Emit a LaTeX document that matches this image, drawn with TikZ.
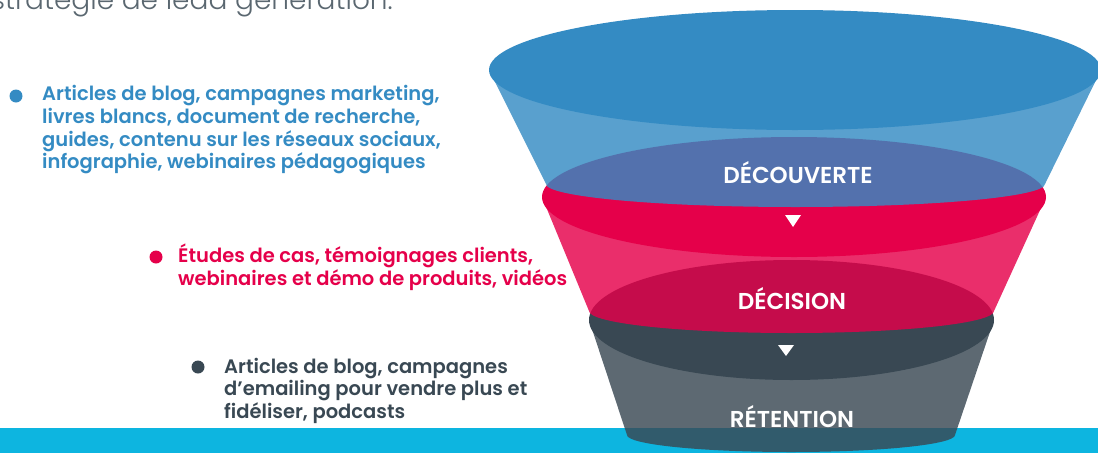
\documentclass[tikz,border=0pt]{standalone}
\usepackage{fontspec}
\IfFontExistsTF{Poppins SemiBold}
  {\newfontfamily\lblfont{Poppins SemiBold}}
  {\newfontfamily\lblfontbase{Poppins}\newcommand\lblfont{\lblfontbase\bfseries}}
\IfFontExistsTF{Poppins Light}
  {\newfontfamily\ttlfont{Poppins Light}}
  {\newfontfamily\ttlfont{Poppins}}
\definecolor{fblue}{HTML}{348BC3}
\definecolor{fred}{HTML}{E5004A}
\definecolor{fgrey}{HTML}{394853}
\definecolor{fcyan}{HTML}{0DB5E0}
\definecolor{ftitle}{HTML}{5A6770}

\begin{document}
\begin{tikzpicture}[x=1pt, y=-1pt]
  \tikzset{
    bodyfill/.style={fill opacity=0.82},
    stagetxt/.style={text=white, inner sep=0pt, font=\lblfont\fontsize{23}{23}\selectfont},
    itemtxt/.style={align=left, anchor=base west, inner sep=0pt, font=\lblfont\fontsize{19.5}{22.7}\selectfont},
    bulletdot/.style={circle, inner sep=0pt, minimum size=13pt},
    flowtri/.style={fill=white},
    ttl/.style={text=ftitle, anchor=base east, inner sep=0pt, font=\ttlfont\fontsize{28}{28}\selectfont},
  }
  \clip (0,0) rectangle (1098,453);

  % Band at the bottom
  \fill[fcyan] (0,428) rectangle (1098,453);

  % Retention stage
  \fill[fgrey] (791.5,320) ellipse [x radius=202.5pt, y radius=60pt];
  \fill[fgrey, bodyfill] (589,320) -- (627,435)
    arc[start angle=180, end angle=360, x radius=164pt, y radius=17pt] -- (994,320) -- cycle;

  % Decision stage
  \fill[fred] (794,197) ellipse [x radius=252pt, y radius=60pt];
  \fill[fred, bodyfill] (542,197) -- (589,311)
    arc[start angle=180, end angle=360, x radius=202.5pt, y radius=22pt] -- (1046,197) -- cycle;

  % Discovery stage
  \fill[fblue, bodyfill] (489,70) -- (546,184)
    arc[start angle=180, end angle=360, x radius=249.5pt, y radius=23pt] -- (1101,70) -- cycle;
  \fill[fblue] (795,70) ellipse [x radius=306pt, y radius=60pt];

  % Stage names
  \node[stagetxt] (disc) at (798,173) {DÉCOUVERTE};
  \node[stagetxt] (deci) at (792,299) {DÉCISION};
  \node[stagetxt] (rete) at (792,417) {RÉTENTION};

  % Arrows between stages
  \fill[flowtri] (785,215) -- (801,215) -- (793,227) -- cycle;
  \fill[flowtri] (778,345) -- (794,345) -- (786,356) -- cycle;

  % Contents for each stage (anchored on the last line)
  \node[bulletdot, fill=fblue] (b1) at (16,96) {};
  \node[itemtxt, text=fblue] (t1) at (42,168.8)
    {Articles de blog, campagnes marketing,\\livres blancs, document de recherche,\\guides, contenu sur les réseaux sociaux,\\infographie, webinaires pédagogiques};
  \node[bulletdot, fill=fred] (b2) at (156,257) {};
  \node[itemtxt, text=fred] (t2) at (178,285.2)
    {Études de cas, témoignages clients,\\webinaires et démo de produits, vidéos};
  \node[bulletdot, fill=fgrey] (b3) at (198,367) {};
  \node[itemtxt, text=fgrey] (t3) at (224,418.4)
    {Articles de blog, campagnes\\d’emailing pour vendre plus et\\fidéliser, podcasts};

  % Heading, cut at the top
  \node[ttl] (title) at (393,9) {stratégie de lead génération.};
\end{tikzpicture}
\end{document}
